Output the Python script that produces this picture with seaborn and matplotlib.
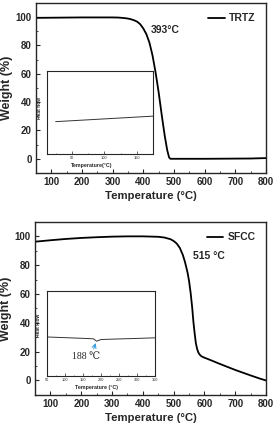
import numpy as np
import pandas as pd
import seaborn as sns
import matplotlib
matplotlib.use("Agg")
import matplotlib.pyplot as plt
from matplotlib.ticker import MultipleLocator

# TGA curve of TRTZ
trtz_temp = [50, 100, 200, 300, 320, 340, 350, 360, 370, 380, 390, 400, 410, 420, 430, 440, 450, 460, 470,
             478, 484, 488, 500, 600, 750, 800]
trtz_weight = [99.5, 99.6, 99.8, 99.8, 99.7, 99.3, 99.0, 98.5, 97.8, 96.8, 95.0, 92.0, 88, 82, 73, 61, 47, 31, 16,
               6, 1, 0, 0, 0, 0.2, 0.5]

# TGA curve of SFCC
sfcc_temp = [50, 100, 150, 200, 250, 300, 350, 400, 450, 470, 490, 500, 510, 520, 530, 537, 545, 550, 555, 560,
             564, 568, 572, 576, 580, 585, 590, 600, 610, 650, 700, 750, 780, 800]
sfcc_weight = [96.3, 97.3, 98.2, 98.9, 99.4, 99.8, 100, 100, 99.7, 99.2, 98, 96.8, 95, 92, 87, 82, 75, 69, 61, 51,
               41, 33, 26, 22, 19.5, 17.8, 16.8, 15.8, 15, 11.5, 7.3, 3.5, 1.3, 0]

# DSC insets (arbitrary heat flow units)
trtz_dsc_temp = [25, 175]
trtz_dsc_flow = [0.39, 0.456]
sfcc_dsc_temp = [50, 100, 150, 180, 188, 200, 250, 300, 350]
sfcc_dsc_flow = [0.46, 0.452, 0.444, 0.438, 0.41, 0.43, 0.437, 0.443, 0.45]

sns.set_style("ticks")
plt.rcParams["font.family"] = ["Liberation Sans", "DejaVu Sans"]
plt.rcParams["xtick.direction"] = "in"
plt.rcParams["ytick.direction"] = "in"

fig = plt.figure(figsize=(2.76, 4.26), dpi=100)


def main_axes(rect, temp, weight, name):
    ax = fig.add_axes(rect)
    sns.lineplot(x=temp, y=weight, ax=ax, color="black", linewidth=1.3, label=name)
    ax.set_xlim(50, 800)
    ax.set_ylim(-10, 110)
    ax.set_xticks([100, 200, 300, 400, 500, 600, 700, 800])
    ax.set_yticks([0, 20, 40, 60, 80, 100])
    ax.xaxis.set_minor_locator(MultipleLocator(50))
    ax.yaxis.set_minor_locator(MultipleLocator(10))
    ax.tick_params(which="major", length=3, width=0.8, labelsize=7, pad=3)
    ax.tick_params(which="minor", length=1.5, width=0.6)
    for lbl in ax.get_xticklabels() + ax.get_yticklabels():
        lbl.set_fontweight("bold")
    for s in ax.spines.values():
        s.set_linewidth(1.0)
    ax.set_ylabel("Weight (%)", fontsize=9, fontweight="bold", labelpad=2)
    ax.set_xlabel("Temperature (\u00b0C)", fontsize=8.2, fontweight="bold", labelpad=3)
    ax.legend(loc="upper right", frameon=False, handlelength=1.6,
              handletextpad=0.4, borderaxespad=0.6, prop={"weight": "bold", "size": 7.5})
    return ax


def inset_axes(rect, temp, flow, xlim, xticks):
    ax = fig.add_axes(rect)
    sns.lineplot(x=temp, y=flow, ax=ax, color="#333333", linewidth=0.7)
    ax.set_xlim(*xlim)
    ax.set_ylim(0, 1)
    ax.set_xticks(xticks)
    ax.set_yticks([])
    ax.xaxis.set_minor_locator(MultipleLocator(25))
    ax.tick_params(which="major", length=2, width=0.5, labelsize=2.8, pad=1.5)
    ax.tick_params(which="minor", length=1, width=0.4)
    for s in ax.spines.values():
        s.set_linewidth(0.8)
    return ax


ax1 = main_axes([0.130, 0.594, 0.834, 0.399], trtz_temp, trtz_weight, "TRTZ")
ax1.text(423, 91, "393\u00b0C", fontsize=7.5, fontweight="bold", va="center")
ins1 = inset_axes([0.171, 0.638, 0.384, 0.196], trtz_dsc_temp, trtz_dsc_flow, (12, 175), [50, 100, 150])
ins1.set_xlabel("Temperature(\u00b0C)", fontsize=3.8, fontweight="bold", labelpad=1.5)
ins1.xaxis.set_label_coords(0.42, -0.1)
ins1.set_ylabel("Heat flow", fontsize=3.5, fontweight="bold", labelpad=2)
ins1.yaxis.set_label_coords(-0.05, 0.55)

ax2 = main_axes([0.127, 0.073, 0.837, 0.406], sfcc_temp, sfcc_weight, "SFCC")
ax2.text(563, 86.7, "515 \u00b0C", fontsize=7.5, fontweight="bold", va="center")
ins2 = inset_axes([0.169, 0.117, 0.393, 0.200], sfcc_dsc_temp, sfcc_dsc_flow, (50, 350),
                  [50, 100, 150, 200, 250, 300, 350])
ins2.set_xlabel("Temperature (\u00b0C)", fontsize=3.8, fontweight="bold", labelpad=1.5)
ins2.xaxis.set_label_coords(0.46, -0.1)
ins2.set_ylabel("Heat Flow", fontsize=3.5, fontweight="bold", labelpad=2)
ins2.yaxis.set_label_coords(-0.05, 0.6)
ins2.annotate("188 \u2103", xy=(187, 0.405), xytext=(119, 0.23), fontsize=7,
              family=["Liberation Serif", "DejaVu Serif"], va="center",
              arrowprops=dict(arrowstyle="->", color="#3a9ee0", lw=0.8, shrinkA=0, shrinkB=1,
                              relpos=(0.75, 1.0)))

fig.savefig("out.png", dpi=100)
